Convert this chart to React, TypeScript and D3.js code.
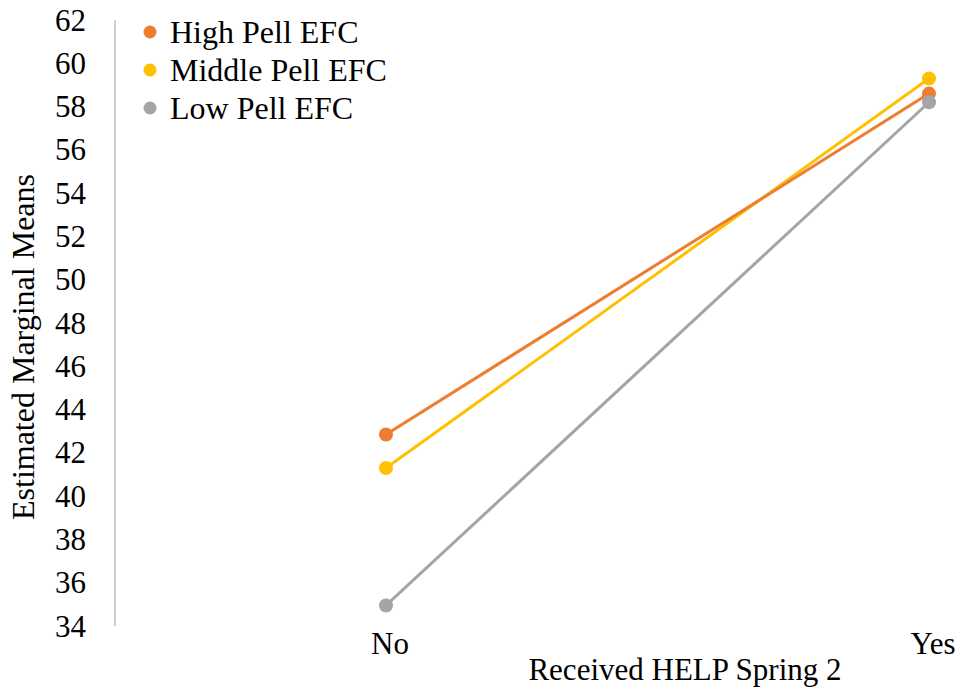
import React from "react";
import * as d3 from "d3";

const categories = ["No", "Yes"];
const seriesNames = ["High Pell EFC", "Middle Pell EFC", "Low Pell EFC"];
const highValues = [42.85, 58.6];
const middleValues = [41.3, 59.3];
const lowValues = [34.95, 58.2];
const seriesColors = ["#ED7D31", "#FFC000", "#A5A5A5"];
const yTicks = d3.range(34, 63, 2);

const W = 957;
const H = 691;
const FONT = "Liberation Serif, Times New Roman, serif";
const FS = 31;

export default function App() {
  const y = d3.scaleLinear().domain([34, 62]).range([626, 20]);
  const x = d3.scalePoint<string>().domain(categories).range([386, 929]);
  const series = [
    { name: seriesNames[0], values: highValues, color: seriesColors[0] },
    { name: seriesNames[1], values: middleValues, color: seriesColors[1] },
    { name: seriesNames[2], values: lowValues, color: seriesColors[2] },
  ];
  const drawOrder = [series[1], series[0], series[2]];
  const line = d3
    .line<number>()
    .x((_, i) => x(categories[i]) as number)
    .y((d) => y(d));
  const ts: React.CSSProperties = { fontFamily: FONT };

  return (
    <svg
      width={W}
      height={H}
      style={{ position: "absolute", left: 0, top: 0, background: "#fff", fontFamily: FONT }}
    >
      <rect width={W} height={H} fill="#fff" />
      <line x1={115} x2={115} y1={y(62)} y2={y(34)} stroke="#BFBFBF" strokeWidth={1.5} />
      {yTicks.map((t) => (
        <text key={t} x={86} y={y(t) + 10.5} textAnchor="end" fontSize={FS} fill="#000" style={ts}>
          {String(t)}
        </text>
      ))}
      {categories.map((c) => (
        <text key={c} x={(x(c) as number) + 4} y={654} textAnchor="middle" fontSize={FS} fill="#000" style={ts}>
          {c}
        </text>
      ))}
      <text x={685} y={680} textAnchor="middle" fontSize={FS} fill="#000" style={ts}>
        Received HELP Spring 2
      </text>
      <text
        transform={`translate(34, ${347}) rotate(-90)`}
        textAnchor="middle"
        fontSize={32}
        fill="#000"
        style={ts}
      >
        Estimated Marginal Means
      </text>
      {drawOrder.map((s) => (
        <g key={s.name}>
          <path d={line(s.values) || ""} fill="none" stroke={s.color} strokeWidth={3} />
          {s.values.map((v, i) => (
            <circle key={i} cx={x(categories[i])} cy={y(v)} r={7} fill={s.color} />
          ))}
        </g>
      ))}
      {series.map((s, i) => (
        <g key={s.name}>
          <circle cx={150} cy={32 + i * 38} r={6.5} fill={s.color} />
          <text x={170} y={32 + i * 38 + 11} fontSize={32} fill="#000" style={ts}>
            {s.name}
          </text>
        </g>
      ))}
    </svg>
  );
}
